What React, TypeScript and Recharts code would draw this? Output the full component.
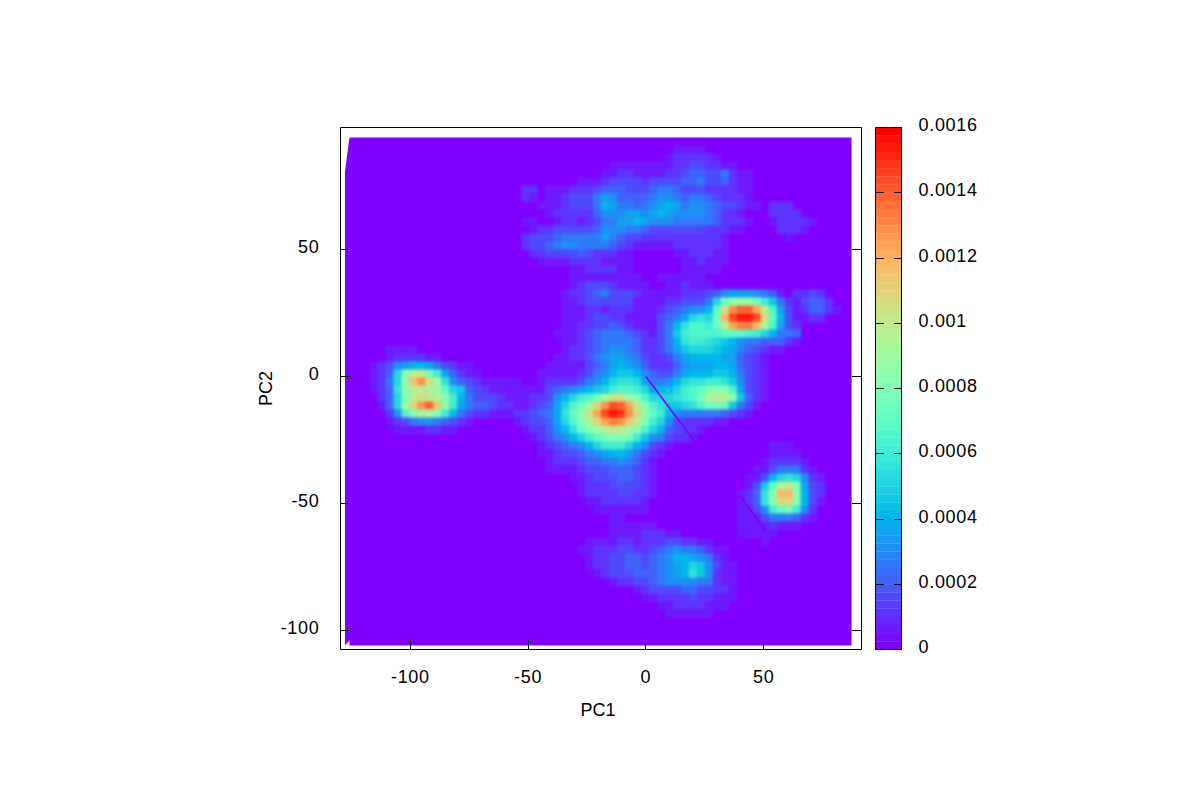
import { ScatterChart, Scatter, XAxis, YAxis, ReferenceArea } from "recharts";

// each row: [grid row, first grid column, ...density levels left to right]
const upperLobes = [
  [1, 41, 1, 1, 1, 1],
  [2, 40, 1, 2, 2, 2, 2, 2, 1],
  [3, 33, 1, 1, 1, 1, 1, 1, 1, 1, 2, 2, 3, 3, 2, 2, 1, 1],
  [4, 32, 1, 1, 2, 2, 1, 1, 1, 1, 2, 2, 3, 4, 4, 3, 3, 5, 2, 1, 1],
  [5, 29, 1, 1, 1, 2, 3, 3, 3, 3, 2, 3, 3, 3, 3, 4, 4, 5, 3, 3, 4, 2, 1, 1],
  [6, 22, 2, 2, 0, 1, 1, 1, 2, 2, 2, 3, 4, 4, 4, 3, 3, 3, 4, 5, 5, 4, 3, 3, 3, 2, 2, 2, 2, 1, 1],
  [7, 22, 2, 1, 0, 1, 1, 2, 3, 3, 3, 5, 7, 6, 4, 4, 4, 4, 5, 6, 6, 5, 4, 5, 5, 4, 3, 2, 2, 2, 1],
  [8, 24, 1, 1, 1, 2, 3, 3, 3, 5, 8, 7, 5, 5, 4, 5, 6, 7, 8, 7, 5, 6, 6, 5, 4, 3, 3, 2, 1, 1, 0, 2, 2, 2],
  [9, 25, 1, 2, 2, 2, 2, 2, 4, 6, 6, 6, 7, 7, 6, 7, 8, 7, 6, 6, 6, 6, 5, 4, 2, 2, 1, 0, 0, 0, 2, 2, 2, 2],
  [10, 22, 1, 1, 0, 0, 1, 2, 2, 1, 2, 3, 5, 5, 7, 7, 8, 7, 6, 6, 6, 5, 5, 5, 5, 5, 4, 2, 2, 2, 1, 0, 0, 1, 2, 2, 2, 2, 1],
  [11, 23, 1, 2, 2, 3, 3, 3, 3, 3, 4, 6, 6, 6, 5, 5, 4, 3, 3, 3, 3, 3, 3, 3, 2, 2, 2, 1, 1, 0, 0, 0, 0, 2, 2, 2, 1],
  [12, 22, 2, 3, 3, 3, 4, 5, 5, 5, 5, 5, 7, 5, 4, 3, 3, 2, 2, 2, 2, 2, 2, 2, 2, 2, 2, 1],
  [12, 55, 1],
  [13, 22, 2, 3, 3, 4, 5, 6, 6, 5, 5, 5, 5, 4, 3, 2, 1, 1, 1, 1, 1, 2, 2, 2, 2, 2, 2, 1],
  [14, 23, 2, 2, 3, 3, 3, 3, 4, 3, 2, 2, 2, 1, 1, 0, 0, 0, 0, 0, 1, 1, 2, 2, 2, 1, 1],
  [15, 24, 1, 1, 1, 1, 2, 2, 2, 2, 1, 1, 1, 1, 0, 0, 0, 0, 0, 0, 1, 1, 2, 1, 1, 1],
  [16, 28, 1, 1, 2, 2, 2, 2, 1, 1, 0, 0, 0, 0, 0, 0, 1, 1, 1, 1, 1],
  [17, 28, 1, 1, 1, 1, 1, 1, 1, 1, 1, 0, 0, 1, 1, 1, 1, 1, 1],
  [18, 28, 1, 2, 3, 3, 3, 2, 1, 1, 1, 1, 0, 0, 1, 1, 2, 1, 1, 1],
];

const rightLobes = [
  [19, 27, 1, 2, 2, 3, 4, 5, 3, 3, 3, 2, 1, 1, 1, 1, 1, 2, 2, 2, 3, 4, 6, 7, 7, 7, 6, 5, 4, 1, 0, 2, 2, 3, 2],
  [20, 27, 1, 1, 2, 3, 3, 3, 3, 3, 3, 1, 1, 1, 1, 2, 2, 3, 3, 3, 5, 10, 15, 17, 18, 17, 15, 12, 9, 5, 2, 1, 3, 4, 4, 2],
  [21, 27, 1, 1, 1, 2, 2, 1, 2, 2, 2, 1, 1, 1, 2, 3, 4, 5, 6, 6, 8, 14, 21, 26, 28, 28, 25, 20, 13, 7, 3, 1, 2, 4, 4, 2, 1],
  [22, 27, 1, 1, 1, 2, 3, 3, 2, 2, 1, 1, 1, 1, 3, 4, 5, 7, 10, 11, 10, 15, 24, 29, 31, 31, 29, 22, 14, 8, 3, 1, 1, 2, 2],
  [23, 27, 1, 1, 2, 2, 3, 3, 4, 3, 2, 1, 1, 1, 3, 5, 8, 11, 13, 13, 12, 14, 20, 25, 27, 27, 24, 19, 13, 7, 3, 2],
  [24, 26, 1, 1, 1, 2, 3, 4, 5, 5, 5, 4, 3, 2, 1, 3, 5, 9, 12, 13, 13, 13, 13, 14, 14, 14, 13, 12, 10, 8, 5, 5, 4],
  [25, 27, 1, 1, 2, 3, 4, 5, 5, 5, 5, 4, 2, 2, 3, 5, 8, 11, 12, 12, 11, 10, 9, 8, 6, 5, 5, 4, 4, 4, 2, 1],
];

const leftBasin = [
  [26, 5, 1, 1, 1, 1],
  [27, 5, 1, 2, 2, 2, 2, 1, 1],
  [28, 3, 1, 2, 3, 6, 7, 8, 8, 7, 5, 3, 2, 1, 1],
  [29, 3, 1, 2, 4, 10, 16, 20, 20, 15, 12, 7, 4, 2, 1, 1],
  [30, 3, 1, 2, 5, 10, 18, 23, 26, 21, 18, 11, 6, 4, 3, 2, 1, 1, 1, 1, 1],
  [31, 3, 1, 2, 4, 11, 16, 20, 20, 19, 18, 14, 10, 9, 4, 3, 2, 1],
  [32, 4, 2, 4, 10, 16, 20, 21, 20, 19, 16, 12, 8, 5, 3, 3, 3],
  [33, 4, 1, 4, 10, 18, 22, 26, 28, 23, 17, 12, 7, 5, 4, 4, 3],
  [34, 5, 2, 6, 13, 16, 19, 19, 16, 12, 8, 5, 3, 2, 2, 1],
  [35, 5, 1, 2, 3, 5, 6, 6, 5, 4, 3, 2, 1],
  [36, 6, 1, 1, 1, 1, 2, 2, 1, 1],
];

const centralBasin = [
  [26, 27, 1, 2, 2, 3, 4, 5, 6, 6, 5, 4, 2, 2, 3, 5, 7, 9, 10, 10, 10, 9, 8, 7, 5, 4, 3, 2, 1, 1],
  [27, 26, 1, 1, 2, 2, 3, 5, 6, 7, 7, 6, 5, 3, 2, 2, 3, 5, 7, 8, 8, 8, 8, 7, 7, 4, 3, 2, 1],
  [28, 25, 1, 1, 1, 1, 1, 3, 4, 5, 7, 8, 7, 6, 4, 2, 2, 2, 4, 6, 7, 7, 7, 8, 8, 7, 4, 3, 2, 1],
  [29, 24, 1, 1, 1, 1, 1, 2, 3, 5, 6, 8, 9, 9, 8, 6, 4, 3, 3, 5, 7, 8, 8, 8, 9, 9, 8, 5, 3, 2, 1],
  [30, 24, 1, 2, 2, 2, 2, 3, 5, 6, 8, 10, 11, 11, 10, 7, 5, 5, 6, 8, 10, 11, 11, 12, 12, 11, 9, 6, 3, 2, 1],
  [31, 19, 1, 1, 1, 1, 1, 1, 3, 4, 5, 6, 7, 8, 9, 10, 12, 13, 13, 12, 10, 7, 8, 8, 10, 12, 13, 14, 16, 16, 16, 13, 7, 3, 2, 1],
  [32, 19, 2, 1, 1, 1, 2, 2, 3, 6, 8, 10, 12, 13, 15, 18, 21, 21, 18, 16, 13, 10, 10, 10, 11, 12, 13, 15, 19, 20, 20, 17, 9, 4, 2, 1],
  [33, 19, 2, 2, 1, 1, 2, 3, 4, 7, 10, 13, 15, 18, 22, 26, 29, 28, 25, 21, 16, 13, 11, 9, 9, 10, 11, 13, 15, 15, 14, 9, 5, 3, 1],
  [34, 19, 1, 1, 2, 2, 3, 4, 5, 7, 11, 14, 17, 21, 25, 29, 31, 30, 26, 22, 17, 14, 12, 8, 6, 5, 5, 5, 5, 5, 4, 3, 2, 1],
  [35, 21, 1, 2, 3, 3, 4, 7, 10, 13, 16, 19, 22, 25, 27, 26, 23, 20, 16, 12, 10, 6, 3, 2, 2, 2, 2, 1, 1],
  [36, 22, 1, 2, 2, 4, 6, 8, 11, 14, 16, 18, 20, 21, 20, 19, 16, 13, 10, 8, 4, 3, 2, 2, 1],
  [37, 23, 1, 2, 3, 5, 6, 8, 10, 12, 14, 15, 16, 16, 15, 12, 9, 6, 5, 3, 2, 2, 1],
  [38, 24, 1, 2, 3, 4, 5, 6, 8, 10, 12, 12, 12, 10, 8, 6, 3, 2, 1],
  [39, 24, 1, 1, 2, 3, 3, 4, 5, 6, 7, 8, 8, 7, 5, 3, 2, 1],
  [40, 25, 1, 2, 2, 2, 3, 4, 4, 5, 5, 6, 5, 4, 2, 1],
  [41, 25, 1, 1, 1, 1, 2, 3, 3, 3, 4, 4, 4, 3, 2, 1],
  [42, 28, 1, 1, 2, 3, 3, 3, 4, 4, 3, 2, 1],
  [43, 29, 1, 2, 2, 2, 3, 3, 3, 3, 2, 1],
  [44, 29, 1, 2, 2, 2, 2, 3, 3, 2, 2, 1],
  [45, 30, 1, 1, 2, 2, 2, 2, 2, 1],
  [46, 31, 1, 1, 1, 1, 1, 1, 1],
  [47, 33, 1, 1],
];

const farRightBasin = [
  [38, 53, 1, 1, 1],
  [39, 53, 1, 1, 1, 1],
  [40, 52, 1, 2, 2, 2, 2, 1],
  [41, 51, 1, 1, 3, 5, 5, 5, 2, 1],
  [42, 50, 1, 1, 3, 8, 10, 11, 10, 6, 2, 1],
  [43, 50, 1, 3, 9, 14, 19, 20, 16, 7, 3, 2],
  [44, 49, 1, 2, 4, 11, 17, 24, 24, 17, 8, 3, 2],
  [45, 49, 1, 2, 4, 11, 16, 22, 22, 16, 8, 3, 1],
  [46, 49, 1, 1, 3, 6, 12, 14, 15, 12, 6, 2],
  [47, 49, 1, 1, 1, 3, 5, 5, 5, 4, 2, 1],
  [48, 49, 1, 1, 1, 1, 2, 1, 1, 1],
  [49, 49, 1, 1, 1, 1, 1],
  [50, 52, 1],
];

const lowerBasin = [
  [48, 33, 1, 1, 1, 1, 1, 1],
  [49, 33, 1, 1, 1, 1, 2, 2, 2, 1, 1],
  [50, 30, 1, 1, 1, 1, 2, 2, 1, 2, 2, 2, 3, 3, 2, 2, 1, 1],
  [51, 29, 1, 1, 2, 2, 2, 3, 3, 2, 2, 3, 4, 5, 6, 5, 5, 4, 2, 1, 1],
  [52, 30, 1, 2, 2, 3, 3, 4, 4, 3, 4, 5, 6, 8, 8, 7, 6, 5, 2, 1],
  [53, 30, 1, 2, 2, 3, 3, 4, 4, 3, 4, 5, 6, 7, 8, 10, 9, 6, 3, 1, 1],
  [54, 31, 1, 2, 3, 3, 3, 4, 4, 4, 5, 6, 7, 8, 11, 9, 6, 2, 1, 1],
  [55, 33, 1, 2, 2, 3, 3, 4, 5, 6, 6, 6, 6, 5, 5, 2, 1, 1],
  [56, 36, 1, 2, 3, 3, 3, 3, 4, 4, 3, 3, 2, 2, 1],
  [57, 37, 1, 1, 2, 2, 2, 2, 3, 2, 2, 1, 1, 1],
  [58, 39, 1, 1, 2, 2, 2, 2, 1, 1, 1],
  [59, 40, 1, 1, 1, 1, 1, 1],
];

const pc1Ticks = [-100, -50, 0, 50];
const pc2Ticks = [-100, -50, 0, 50];
const densityTicks = [0, 0.0002, 0.0004, 0.0006, 0.0008, 0.001, 0.0012, 0.0014, 0.0016];
const streakA = [{ pc1: 0, pc2: 0 }, { pc1: 21, pc2: -26 }];
const streakB = [{ pc1: 40, pc2: -47 }, { pc1: 51, pc2: -61 }];

const LEVEL = 0.00005; // one level in the rows above
const MAX_DENSITY = 0.0016;
const X_DOMAIN = [-129.66, 91.53];
const Y_DOMAIN = [-107.5, 98];
const FIRST_CELL = { x: -125.85, y: 92.5 }; // centre of grid cell col 0, row 0
const CELL = { x: 3.39, y: 3.15 };
const FONT = "'Liberation Sans', Arial, sans-serif";
const FONT_SIZE = 18;
const DIGIT_SPACING = 0.7; // gd text in the original sets digits a bit wider

// same palette as gnuplot rgbformulae 33,13,10
function paletteColor(v: number) {
  const t = Math.round(Math.min(1, Math.max(0, v / MAX_DENSITY)) * 63) / 63;
  const r = Math.min(1, Math.abs(2 * t - 0.5));
  const g = Math.sin(Math.PI * t);
  const b = Math.max(0, Math.cos((Math.PI * t) / 2));
  return `rgb(${Math.round(r * 255)},${Math.round(g * 255)},${Math.round(b * 255)})`;
}

const cells: { pc1: number; pc2: number; density: number }[] = [];
[upperLobes, rightLobes, leftBasin, centralBasin, farRightBasin, lowerBasin].forEach((group) => {
  group.forEach(([row, first, ...levels]) => {
    levels.forEach((level, i) => {
      if (level === 0) return;
      cells.push({
        pc1: FIRST_CELL.x + (first + i) * CELL.x,
        pc2: FIRST_CELL.y - row * CELL.y,
        density: level * LEVEL,
      });
    });
  });
});

const colorSteps = Array.from({ length: 64 }, (_, i) => ({ x: 0.5, y: ((i + 0.5) / 64) * MAX_DENSITY }));

// eslint-disable-next-line @typescript-eslint/no-explicit-any
const HeatCell = ({ cx, cy, payload }: any) => {
  const w = (CELL.x * 521) / (X_DOMAIN[1] - X_DOMAIN[0]);
  const h = (CELL.y * 522) / (Y_DOMAIN[1] - Y_DOMAIN[0]);
  return <rect x={cx - w / 2} y={cy - h / 2} width={w + 0.5} height={h + 0.5} fill={paletteColor(payload.density)} />;
};

// eslint-disable-next-line @typescript-eslint/no-explicit-any
const Backdrop = ({ x, y, width, height }: any) => (
  <polygon
    points={`${x + 4.5},${y} ${x + width},${y} ${x + width},${y + height} ${x + 4.5},${y + height} ${x + 4.5},${y + height - 5} ${x},${y + height} ${x},${y + 34}`}
    fill="#8000ff"
  />
);

// eslint-disable-next-line @typescript-eslint/no-explicit-any
const BottomTick = ({ x, y, payload }: any) => (
  <g>
    <line x1={x} x2={x} y1={y} y2={y - 10} stroke="#000" shapeRendering="crispEdges" />
    <text x={x} y={y + 33.5} textAnchor="middle" fontFamily={FONT} fontSize={FONT_SIZE} letterSpacing={DIGIT_SPACING} fill="#000">
      {payload.value}
    </text>
  </g>
);
// eslint-disable-next-line @typescript-eslint/no-explicit-any
const TopTick = ({ x, y }: any) => <line x1={x} x2={x} y1={y} y2={y + 10} stroke="#000" shapeRendering="crispEdges" />;
// eslint-disable-next-line @typescript-eslint/no-explicit-any
const LeftTick = ({ x, y, payload }: any) => (
  <g>
    <line x1={x} x2={x + 10} y1={y} y2={y} stroke="#000" shapeRendering="crispEdges" />
    <text x={x - 21} y={y + 4} textAnchor="end" fontFamily={FONT} fontSize={FONT_SIZE} letterSpacing={DIGIT_SPACING} fill="#000">
      {payload.value}
    </text>
  </g>
);
// eslint-disable-next-line @typescript-eslint/no-explicit-any
const RightTick = ({ x, y }: any) => <line x1={x} x2={x - 10} y1={y} y2={y} stroke="#000" shapeRendering="crispEdges" />;
// eslint-disable-next-line @typescript-eslint/no-explicit-any
const BarLeftTick = ({ x, y }: any) => <line x1={x} x2={x + 8} y1={y} y2={y} stroke="#000" shapeRendering="crispEdges" />;
// eslint-disable-next-line @typescript-eslint/no-explicit-any
const BarRightTick = ({ x, y, payload }: any) => (
  <g>
    <line x1={x} x2={x - 8} y1={y} y2={y} stroke="#000" shapeRendering="crispEdges" />
    <text x={x + 17} y={y + 3.5} textAnchor="start" fontFamily={FONT} fontSize={FONT_SIZE} letterSpacing={DIGIT_SPACING} fill="#000">
      {payload.value}
    </text>
  </g>
);

// eslint-disable-next-line @typescript-eslint/no-explicit-any
const ColorStep = ({ cx, cy, payload }: any) => (
  <rect x={cx - 12.5} y={cy - 4.2} width={25} height={8.4} fill={paletteColor(payload.y)} />
);

const axisLine = { stroke: "#000" };
const NoMark = () => null;

export default function App() {
  return (
    <div style={{ position: "absolute", left: 0, top: 0, width: 1200, height: 800, background: "#fff" }}>
      <style>{`.heat-layer { filter: blur(1.6px); }`}</style>
      <div style={{ position: "absolute", left: 0, top: 0 }}>
        <ScatterChart width={1200} height={800} margin={{ top: 126.5, right: 337.5, bottom: 149.5, left: 339.5 }}>
          <XAxis
            type="number"
            dataKey="pc1"
            domain={X_DOMAIN}
            ticks={pc1Ticks}
            interval={0}
            height={1}
            tickLine={false}
            tickSize={0}
            tickMargin={0}
            axisLine={axisLine}
            allowDataOverflow
            tick={<BottomTick />}
            label={{ value: "PC1", position: "bottom", offset: 53, dx: -3, fontFamily: FONT, fontSize: FONT_SIZE, fill: "#000" }}
          />
          <XAxis
            xAxisId="top"
            orientation="top"
            type="number"
            domain={X_DOMAIN}
            ticks={pc1Ticks}
            interval={0}
            height={1}
            tickLine={false}
            tickSize={0}
            tickMargin={0}
            axisLine={axisLine}
            allowDataOverflow
            tick={<TopTick />}
          />
          <YAxis
            type="number"
            dataKey="pc2"
            domain={Y_DOMAIN}
            ticks={pc2Ticks}
            interval={0}
            width={1}
            tickLine={false}
            tickSize={0}
            tickMargin={0}
            axisLine={axisLine}
            allowDataOverflow
            tick={<LeftTick />}
            label={{ value: "PC2", angle: -90, position: "left", offset: 74, textAnchor: "middle", fontFamily: FONT, fontSize: FONT_SIZE, fill: "#000" }}
          />
          <YAxis
            yAxisId="right"
            orientation="right"
            type="number"
            domain={Y_DOMAIN}
            ticks={pc2Ticks}
            interval={0}
            width={1}
            tickLine={false}
            tickSize={0}
            tickMargin={0}
            axisLine={axisLine}
            allowDataOverflow
            tick={<RightTick />}
          />
          <ReferenceArea x1={-127.75} x2={87.3} y1={-105.9} y2={94.1} shape={<Backdrop />} />
          <Scatter data={cells} isAnimationActive={false} className="heat-layer" shape={<HeatCell />} />
          <Scatter data={streakA} isAnimationActive={false} line={{ stroke: "#8000ff", strokeWidth: 1.6 }} shape={<NoMark />} />
          <Scatter data={streakB} isAnimationActive={false} line={{ stroke: "#8000ff", strokeWidth: 1.6 }} shape={<NoMark />} />
        </ScatterChart>
      </div>
      <div style={{ position: "absolute", left: 0, top: 0 }}>
        <ScatterChart width={1200} height={800} margin={{ top: 126.5, right: 297.5, bottom: 149.5, left: 874.5 }}>
          <XAxis type="number" dataKey="x" domain={[0, 1]} height={1} tick={false} tickLine={false} axisLine={axisLine} />
          <XAxis xAxisId="barTop" orientation="top" type="number" domain={[0, 1]} height={1} tick={false} tickLine={false} axisLine={axisLine} />
          <YAxis
            type="number"
            dataKey="y"
            domain={[0, MAX_DENSITY]}
            ticks={densityTicks}
            interval={0}
            width={1}
            tickLine={false}
            tickSize={0}
            tickMargin={0}
            axisLine={axisLine}
            allowDataOverflow
            tick={<BarLeftTick />}
          />
          <YAxis
            yAxisId="bar"
            orientation="right"
            type="number"
            domain={[0, MAX_DENSITY]}
            ticks={densityTicks}
            interval={0}
            width={1}
            tickLine={false}
            tickSize={0}
            tickMargin={0}
            axisLine={axisLine}
            allowDataOverflow
            tick={<BarRightTick />}
          />
          <Scatter data={colorSteps} isAnimationActive={false} shape={<ColorStep />} />
        </ScatterChart>
      </div>
    </div>
  );
}
